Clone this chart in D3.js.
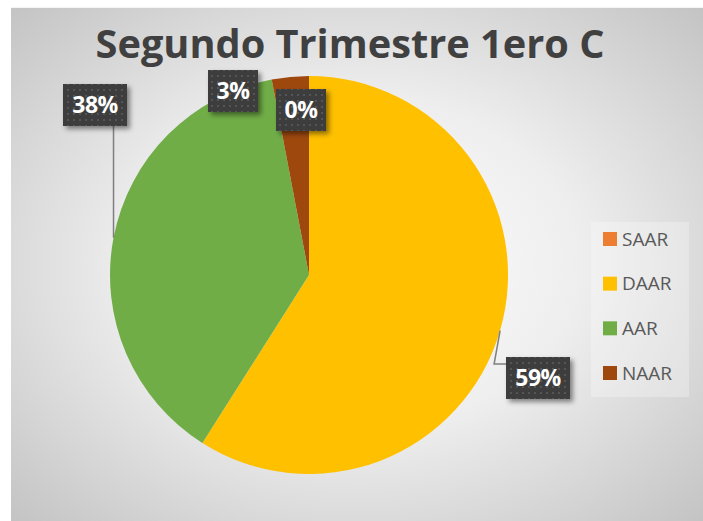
<!DOCTYPE html>
<html>
<head>
<meta charset="utf-8">
<script src="https://cdn.jsdelivr.net/npm/d3@7"></script>
<style>
  html, body { margin: 0; padding: 0; background: #ffffff; }
  svg { display: block; }
</style>
</head>
<body>
<svg id="chart" width="703" height="521"></svg>
<script>
// Data
const categories = ["SAAR", "DAAR", "AAR", "NAAR"];
const values = [0, 59, 38, 3];
const valueLabels = ["0%", "59%", "38%", "3%"];
const colors = ["#ED7D31", "#FFC000", "#70AD47", "#9E480E"];
const title = "Segundo Trimestre 1ero C";

// Layout
const W = 703, H = 521;
const panel = { x: 11, y: 7, w: 692, h: 514 };
const cx = 309, cy = 275, R = 199;
// label box centres (index matches categories) and whether a leader line is drawn
const labelPlacement = [
  { x: 301, y: 110, leader: false },
  { x: 538, y: 378, leader: "elbow" },
  { x: 95, y: 105, leader: "vertical" },
  { x: 233, y: 91, leader: false }
];

const svg = d3.select("#chart");
const defs = svg.append("defs");

// panel background: soft radial shading
const rg = defs.append("radialGradient").attr("id", "bg")
  .attr("cx", "50%").attr("cy", "50%").attr("r", "72%");
rg.append("stop").attr("offset", "0%").attr("stop-color", "#ffffff");
rg.append("stop").attr("offset", "45%").attr("stop-color", "#eeeeee");
rg.append("stop").attr("offset", "100%").attr("stop-color", "#c2c2c2");

// dotted texture for data label boxes
const pat = defs.append("pattern").attr("id", "dots")
  .attr("width", 6).attr("height", 6).attr("patternUnits", "userSpaceOnUse");
pat.append("rect").attr("width", 6).attr("height", 6).attr("fill", "#3d3d3d");
pat.append("rect").attr("x", 2).attr("y", 2).attr("width", 2).attr("height", 2).attr("fill", "#555555");

const sh = defs.append("filter").attr("id", "shadow")
  .attr("x", "-30%").attr("y", "-30%").attr("width", "170%").attr("height", "170%");
sh.append("feDropShadow").attr("dx", 3).attr("dy", 3).attr("stdDeviation", 2.5)
  .attr("flood-color", "#000").attr("flood-opacity", 0.45);

svg.append("rect")
  .attr("x", panel.x).attr("y", panel.y).attr("width", panel.w).attr("height", panel.h)
  .attr("fill", "url(#bg)");
svg.append("line")
  .attr("x1", panel.x).attr("x2", panel.x + panel.w).attr("y1", panel.y + 0.5).attr("y2", panel.y + 0.5)
  .attr("stroke", "#f4f4f4").attr("stroke-width", 1);

// Title
const t = svg.append("text")
  .attr("x", 350).attr("y", 58)
  .attr("text-anchor", "middle")
  .attr("font-family", "'Open Sans', 'Noto Sans', sans-serif")
  .attr("font-weight", 700)
  .attr("font-size", 40)
  .attr("fill", "#404040")
  .text(title);
const tw = t.node().getComputedTextLength();
t.attr("font-size", 40 * 509 / tw);

// Pie
const pie = d3.pie().sort(null).value(d => d)
  .startAngle(0).endAngle(2 * Math.PI);
const arcs = pie(values);
const arc = d3.arc().innerRadius(0).outerRadius(R);

const g = svg.append("g").attr("transform", `translate(${cx},${cy})`);
g.selectAll("path").data(arcs).join("path")
  .attr("d", arc)
  .attr("fill", (d, i) => colors[i]);

// Leader lines from the arc edge at each slice's mid-angle
const edgePoint = d => {
  const a = (d.startAngle + d.endAngle) / 2;
  return [cx + R * Math.sin(a), cy - R * Math.cos(a)];
};
const boxW = [50, 64, 64, 50], boxH = 42;
arcs.forEach((d, i) => {
  const p = labelPlacement[i];
  if (!p.leader) return;
  const [ex, ey] = edgePoint(d);
  let pts;
  if (p.leader === "vertical") {
    pts = [[ex, ey], [ex, p.y + boxH / 2]];
  } else {
    const left = p.x - boxW[i] / 2;
    pts = [[ex, ey], [ex - 6, p.y - 14], [left, p.y - 14]];
  }
  svg.append("path")
    .attr("d", d3.line()(pts))
    .attr("fill", "none").attr("stroke", "#7f7f7f").attr("stroke-width", 1.5);
});

// Data labels
arcs.forEach((d, i) => {
  const p = labelPlacement[i];
  const lg = svg.append("g").attr("transform", `translate(${p.x},${p.y})`);
  lg.append("rect")
    .attr("x", -boxW[i] / 2).attr("y", -boxH / 2)
    .attr("width", boxW[i]).attr("height", boxH)
    .attr("fill", "url(#dots)")
    .attr("filter", "url(#shadow)");
  lg.append("text")
    .attr("text-anchor", "middle").attr("dy", "0.36em")
    .attr("font-family", "'Open Sans', 'Noto Sans', sans-serif")
    .attr("font-weight", 700).attr("font-size", 23)
    .attr("letter-spacing", -0.5)
    .attr("fill", "#ffffff")
    .text(valueLabels[i]);
});

// Legend
const legend = svg.append("g");
legend.append("rect")
  .attr("x", 591).attr("y", 222).attr("width", 98).attr("height", 175)
  .attr("fill", "#ffffff").attr("fill-opacity", 0.28);
const ly = d3.scalePoint().domain(categories).range([239, 373]);
categories.forEach((c, i) => {
  legend.append("rect")
    .attr("x", 603).attr("y", ly(c) - 7).attr("width", 14).attr("height", 14)
    .attr("fill", colors[i]);
  legend.append("text")
    .attr("x", 622).attr("y", ly(c)).attr("dy", "0.35em")
    .attr("font-family", "'Open Sans', 'Noto Sans', sans-serif")
    .attr("font-size", 19)
    .attr("fill", "#595959")
    .text(c);
});
</script>
</body>
</html>
